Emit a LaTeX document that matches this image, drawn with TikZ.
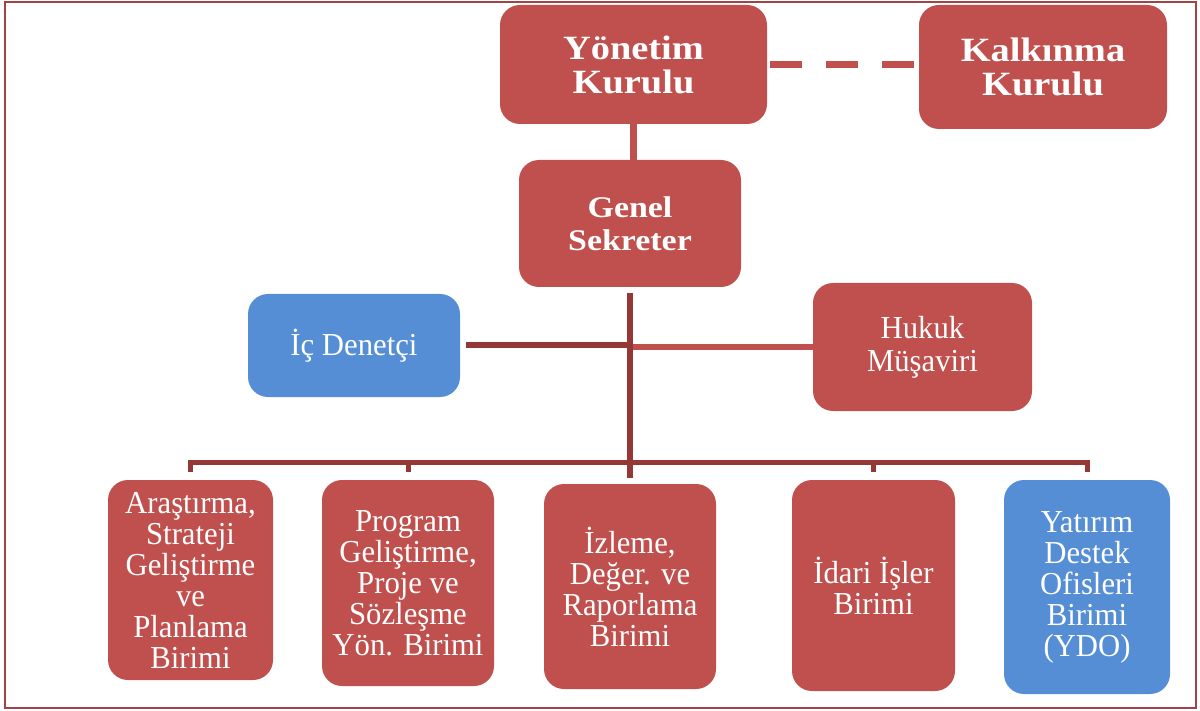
\documentclass[tikz,border=0pt]{standalone}
\usepackage{fontspec}
\setmainfont{Liberation Serif}
\newfontfamily\orgfont[FakeStretch=0.96]{Liberation Serif}
\newfontfamily\orgboldfont[FakeStretch=1.13]{Liberation Serif}
\usetikzlibrary{calc}
\definecolor{boxred}{HTML}{C0504D}
\definecolor{boxblue}{HTML}{558ED5}
\definecolor{linedark}{HTML}{953735}
\definecolor{framered}{HTML}{A24444}
\begin{document}
\begin{tikzpicture}[x=1pt,y=-1pt,
  orgbox/.style={rounded corners=20pt, draw=none, text=white, align=center, inner sep=0pt},
  redbox/.style={orgbox, fill=boxred},
  bluebox/.style={orgbox, fill=boxblue},
  topfont/.style={font=\orgboldfont\bfseries\fontsize{34}{34}\selectfont},
  midbold/.style={font=\orgboldfont\bfseries\fontsize{30}{33}\selectfont},
  midfont/.style={font=\orgfont\fontsize{32}{33}\selectfont},
  lowfont/.style={font=\orgfont\fontsize{32}{31}\selectfont},
  lightline/.style={draw=boxred, line width=6.5pt},
  darkline/.style={draw=linedark, line width=6pt},
  busline/.style={draw=linedark, line width=5pt},
  dashline/.style={draw=boxred, line width=7pt, dash pattern=on 32pt off 24pt}
]
\useasboundingbox (0,0) rectangle (1200,711);
\draw[framered, line width=2.5pt] (5,2) rectangle (1196,708);

\node[redbox, topfont, minimum width=267pt, minimum height=119pt] (yk) at (633.5,64.5) {Yönetim\\Kurulu};
\node[redbox, topfont, minimum width=248pt, minimum height=124pt] (kk) at (1043,67) {Kalkınma\\Kurulu};
\node[redbox, midbold, minimum width=222pt, minimum height=127pt] (gs) at (630,223.5) {Genel\\Sekreter};
\node[bluebox, midfont, minimum width=212pt, minimum height=103pt] (ic) at (354,345.5) {İç Denetçi};
\node[redbox, midfont, minimum width=219pt, minimum height=128pt] (hm) at (922.5,347) {Hukuk\\Müşaviri};

\node[redbox, lowfont, minimum width=165pt, minimum height=200pt] (b1) at (190.5,580) {Araştırma,\\Strateji\\Geliştirme\\ve\\Planlama\\Birimi};
\node[redbox, lowfont, minimum width=172pt, minimum height=206pt] (b2) at (408,583) {Program\\Geliştirme,\\Proje ve\\Sözleşme\\Yön. Birimi};
\node[redbox, lowfont, minimum width=172pt, minimum height=205pt] (b3) at (630,586.5) {İzleme,\\Değer. ve\\Raporlama\\Birimi};
\node[redbox, lowfont, minimum width=163pt, minimum height=211pt] (b4) at (873.5,585.5) {İdari İşler\\Birimi};
\node[bluebox, lowfont, minimum width=166pt, minimum height=214pt] (b5) at (1087,587) {Yatırım\\Destek\\Ofisleri\\Birimi\\(YDO)};

\coordinate (bus) at (629,462);

% top connectors
\draw[lightline] (yk.south) -- (yk.south |- gs.north);
\draw[dashline, shorten <=3pt] (yk.east) -- (yk.east -| kk.west);

% side connectors
\draw[darkline, shorten <=6pt] (ic.east) -- (ic.east -| bus);
\draw[lightline] (hm.west) -- (hm.west -| bus);

% bus
\draw[busline] ($(b1.north)+(0,-8)$) |- (bus) -| ($(b5.north)+(0,-8)$);
\draw[busline] ($(b2.north)+(0,-8)$) -- (b2.north |- bus);
\draw[busline] ($(b4.north)+(0,-8)$) -- (b4.north |- bus);
\draw[darkline, shorten <=6pt, shorten >=6pt] (gs.south) -- (gs.south |- b3.north);
\end{tikzpicture}
\end{document}
